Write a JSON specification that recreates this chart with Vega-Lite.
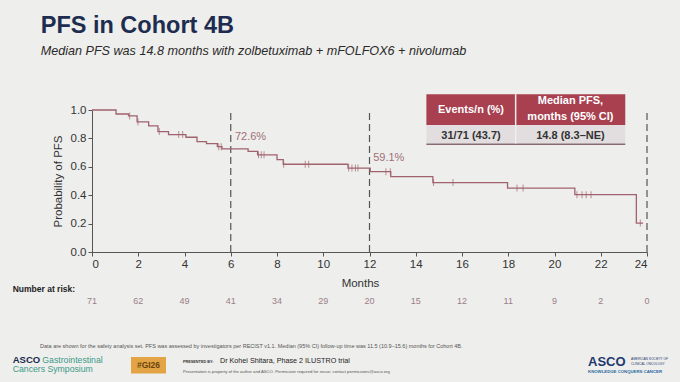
{
  "$schema": "https://vega.github.io/schema/vega-lite/v6.json",
  "width": 555,
  "height": 142,
  "autosize": "none",
  "padding": {"left": 92, "top": 110, "right": 33, "bottom": 130},
  "background": "#eeeeec",
  "config": {
    "view": {"stroke": null},
    "font": "Liberation Sans",
    "axis": {
      "labelFont": "Liberation Sans",
      "titleFont": "Liberation Sans",
      "labelFontSize": 11.5,
      "titleFontSize": 11.5,
      "titleFontWeight": "normal",
      "labelColor": "#333333",
      "titleColor": "#333333",
      "domainColor": "#555555",
      "tickColor": "#555555",
      "tickSize": 4,
      "labelPadding": 2,
      "labelOverlap": false,
      "grid": false
    }
  },
  "data": {"values": [{}]},
  "layer": [
    {
      "data": {"values": [{"month": 6}, {"month": 12}, {"month": 24}]},
      "mark": {"type": "rule", "color": "#555555", "strokeWidth": 1.2, "strokeDash": [7, 4]},
      "encoding": {
        "x": {"field": "month", "type": "quantitative"},
        "y": {"datum": 0},
        "y2": {"datum": 1}
      }
    },
    {
      "data": {"values": [
        {"t": 0, "s": 1.0},
        {"t": 1.04, "s": 0.972},
        {"t": 1.58, "s": 0.958},
        {"t": 1.95, "s": 0.916},
        {"t": 2.45, "s": 0.888},
        {"t": 2.85, "s": 0.848},
        {"t": 3.31, "s": 0.827},
        {"t": 4.06, "s": 0.808},
        {"t": 4.54, "s": 0.777},
        {"t": 4.95, "s": 0.763},
        {"t": 5.42, "s": 0.742},
        {"t": 5.62, "s": 0.726},
        {"t": 6.75, "s": 0.708},
        {"t": 7.16, "s": 0.684},
        {"t": 8.0, "s": 0.65},
        {"t": 8.27, "s": 0.618},
        {"t": 11.07, "s": 0.591},
        {"t": 12.03, "s": 0.566},
        {"t": 12.92, "s": 0.531},
        {"t": 14.74, "s": 0.489},
        {"t": 17.97, "s": 0.45},
        {"t": 20.88, "s": 0.404},
        {"t": 23.54, "s": 0.204},
        {"t": 23.83, "s": 0.204}
      ]},
      "mark": {"type": "line", "interpolate": "step-after", "color": "#a0626d", "strokeWidth": 1.3},
      "encoding": {
        "x": {
          "field": "t", "type": "quantitative",
          "scale": {"domain": [0, 24], "nice": false, "zero": false},
          "axis": {"title": "Months", "values": [0, 2, 4, 6, 8, 10, 12, 14, 16, 18, 20, 22, 24], "labelOverlap": false, "titlePadding": 8, "titleX": 268}
        },
        "y": {
          "field": "s", "type": "quantitative",
          "scale": {"domain": [0, 1], "nice": false, "zero": false},
          "axis": {"title": "Probability of PFS", "values": [0, 0.2, 0.4, 0.6, 0.8, 1.0], "tickCount": 6, "labelOverlap": false, "format": ".1f", "titlePadding": 7}
        }
      }
    },
    {
      "data": {"values": [
        {"t": 1.63, "s": 0.958}, {"t": 1.99, "s": 0.916}, {"t": 2.91, "s": 0.848},
        {"t": 3.75, "s": 0.827}, {"t": 3.92, "s": 0.827},
        {"t": 5.48, "s": 0.742}, {"t": 5.59, "s": 0.742},
        {"t": 7.2, "s": 0.684}, {"t": 7.32, "s": 0.684}, {"t": 7.44, "s": 0.684},
        {"t": 8.29, "s": 0.618}, {"t": 9.22, "s": 0.618}, {"t": 9.37, "s": 0.618},
        {"t": 11.1, "s": 0.591}, {"t": 11.24, "s": 0.591}, {"t": 11.39, "s": 0.591}, {"t": 11.5, "s": 0.591},
        {"t": 12.71, "s": 0.566}, {"t": 12.9, "s": 0.566},
        {"t": 14.77, "s": 0.489}, {"t": 15.61, "s": 0.489},
        {"t": 18.38, "s": 0.45}, {"t": 18.64, "s": 0.45},
        {"t": 20.97, "s": 0.404}, {"t": 21.19, "s": 0.404}, {"t": 21.37, "s": 0.404}, {"t": 21.58, "s": 0.404},
        {"t": 23.71, "s": 0.204}
      ]},
      "mark": {"type": "tick", "orient": "vertical", "size": 7, "thickness": 1, "color": "#a0626d"},
      "encoding": {
        "x": {"field": "t", "type": "quantitative"},
        "y": {"field": "s", "type": "quantitative"}
      }
    },
    {
      "data": {"values": [
        {"month": 0, "n": 71}, {"month": 2, "n": 62}, {"month": 4, "n": 49}, {"month": 6, "n": 41},
        {"month": 8, "n": 34}, {"month": 10, "n": 29}, {"month": 12, "n": 20}, {"month": 14, "n": 15},
        {"month": 16, "n": 12}, {"month": 18, "n": 11}, {"month": 20, "n": 9}, {"month": 22, "n": 2},
        {"month": 24, "n": 0}
      ]},
      "mark": {"type": "text", "fontSize": 9, "color": "#9a8088", "baseline": "middle"},
      "encoding": {
        "x": {"field": "month", "type": "quantitative"},
        "y": {"datum": -0.348},
        "text": {"field": "n", "type": "quantitative"}
      }
    },
    {
      "mark": {"type": "text", "align": "left", "baseline": "alphabetic", "fontSize": 23.5, "fontWeight": "bold", "color": "#1e2d4f"},
      "encoding": {"x": {"datum": -2.218}, "y": {"datum": 1.544}, "text": {"value": "PFS in Cohort 4B"}}
    },
    {
      "mark": {"type": "text", "align": "left", "baseline": "alphabetic", "fontSize": 12.6, "fontStyle": "italic", "color": "#2a2a2a"},
      "encoding": {"x": {"datum": -2.218}, "y": {"datum": 1.385}, "text": {"value": "Median PFS was 14.8 months with zolbetuximab + mFOLFOX6 + nivolumab"}}
    },
    {
      "mark": {"type": "text", "align": "left", "baseline": "middle", "fontSize": 11, "color": "#a07078"},
      "encoding": {"x": {"datum": 6.18}, "y": {"datum": 0.81}, "text": {"value": "72.6%"}}
    },
    {
      "mark": {"type": "text", "align": "left", "baseline": "middle", "fontSize": 11, "color": "#a07078"},
      "encoding": {"x": {"datum": 12.16}, "y": {"datum": 0.66}, "text": {"value": "59.1%"}}
    },
    {
      "mark": {"type": "rect", "color": "#a8404f"},
      "encoding": {"x": {"datum": 14.46}, "x2": {"datum": 23.06}, "y": {"datum": 0.894}, "y2": {"datum": 1.111}}
    },
    {
      "mark": {"type": "rect", "color": "#e2dedf"},
      "encoding": {"x": {"datum": 14.46}, "x2": {"datum": 23.06}, "y": {"datum": 0.764}, "y2": {"datum": 0.894}}
    },
    {
      "mark": {"type": "rule", "color": "#8a6a70", "strokeWidth": 1.5},
      "encoding": {"x": {"datum": 14.46}, "x2": {"datum": 23.06}, "y": {"datum": 0.759}}
    },
    {
      "mark": {"type": "rule", "color": "#f2ecec", "strokeWidth": 1.5},
      "encoding": {"x": {"datum": 18.32}, "y": {"datum": 0.764}, "y2": {"datum": 1.111}}
    },
    {
      "mark": {"type": "text", "align": "center", "baseline": "middle", "fontSize": 11, "fontWeight": "bold", "color": "#ffffff"},
      "encoding": {"x": {"datum": 16.39}, "y": {"datum": 1.0}, "text": {"value": "Events/n (%)"}}
    },
    {
      "mark": {"type": "text", "align": "center", "baseline": "middle", "fontSize": 11, "fontWeight": "bold", "color": "#ffffff"},
      "encoding": {"x": {"datum": 20.69}, "y": {"datum": 1.062}, "text": {"value": "Median PFS,"}}
    },
    {
      "mark": {"type": "text", "align": "center", "baseline": "middle", "fontSize": 11, "fontWeight": "bold", "color": "#ffffff"},
      "encoding": {"x": {"datum": 20.69}, "y": {"datum": 0.95}, "text": {"value": "months (95% CI)"}}
    },
    {
      "mark": {"type": "text", "align": "center", "baseline": "middle", "fontSize": 11, "fontWeight": "bold", "color": "#333333"},
      "encoding": {"x": {"datum": 16.39}, "y": {"datum": 0.815}, "text": {"value": "31/71 (43.7)"}}
    },
    {
      "mark": {"type": "text", "align": "center", "baseline": "middle", "fontSize": 11, "fontWeight": "bold", "color": "#333333"},
      "encoding": {"x": {"datum": 20.69}, "y": {"datum": 0.815}, "text": {"value": "14.8 (8.3–NE)"}}
    },
    {
      "mark": {"type": "text", "align": "left", "baseline": "middle", "fontSize": 8.5, "fontWeight": "bold", "color": "#222222"},
      "encoding": {"x": {"datum": -3.43}, "y": {"datum": -0.262}, "text": {"value": "Number at risk:"}}
    },
    {
      "mark": {"type": "text", "align": "left", "baseline": "middle", "fontSize": 5.5, "color": "#555555"},
      "encoding": {"x": {"datum": -2.249}, "y": {"datum": -0.662}, "text": {"value": "Data are shown for the safety analysis set. PFS was assessed by investigators per RECIST v1.1. Median (95% CI) follow-up time was 11.5 (10.9–15.6) months for Cohort 4B."}}
    },
    {
      "mark": {"type": "text", "align": "left", "baseline": "middle", "fontSize": 9.5, "fontWeight": "bold", "color": "#1a2a4a"},
      "encoding": {"x": {"datum": -3.429}, "y": {"datum": -0.761}, "text": {"value": "ASCO"}}
    },
    {
      "mark": {"type": "text", "align": "left", "baseline": "middle", "fontSize": 8.7, "color": "#3a9a88"},
      "encoding": {"x": {"datum": -2.149}, "y": {"datum": -0.761}, "text": {"value": "Gastrointestinal"}}
    },
    {
      "mark": {"type": "text", "align": "left", "baseline": "middle", "fontSize": 8.7, "color": "#3a9a88"},
      "encoding": {"x": {"datum": -3.429}, "y": {"datum": -0.826}, "text": {"value": "Cancers Symposium"}}
    },
    {
      "mark": {"type": "rect", "color": "#e2a444"},
      "encoding": {"x": {"datum": 1.686}, "x2": {"datum": 3.2}, "y": {"datum": -0.739}, "y2": {"datum": -0.856}}
    },
    {
      "mark": {"type": "text", "align": "center", "baseline": "middle", "fontSize": 8.5, "fontWeight": "bold", "color": "#6a4410"},
      "encoding": {"x": {"datum": 2.443}, "y": {"datum": -0.797}, "text": {"value": "#GI26"}}
    },
    {
      "mark": {"type": "text", "align": "left", "baseline": "middle", "fontSize": 3.8, "fontWeight": "bold", "color": "#333333"},
      "encoding": {"x": {"datum": 3.935}, "y": {"datum": -0.778}, "text": {"value": "PRESENTED BY:"}}
    },
    {
      "mark": {"type": "text", "align": "left", "baseline": "middle", "fontSize": 7.2, "color": "#222222"},
      "encoding": {"x": {"datum": 5.535}, "y": {"datum": -0.768}, "text": {"value": "Dr Kohei Shitara, Phase 2 ILUSTRO trial"}}
    },
    {
      "mark": {"type": "text", "align": "left", "baseline": "middle", "fontSize": 4.2, "color": "#555555"},
      "encoding": {"x": {"datum": 3.935}, "y": {"datum": -0.843}, "text": {"value": "Presentation is property of the author and ASCO. Permission required for reuse; contact permissions@asco.org"}}
    },
    {
      "mark": {"type": "text", "align": "left", "baseline": "middle", "fontSize": 13, "fontWeight": "bold", "color": "#1e3a6e"},
      "encoding": {"x": {"datum": 21.45}, "y": {"datum": -0.775}, "text": {"value": "ASCO"}}
    },
    {
      "mark": {"type": "text", "align": "left", "baseline": "middle", "fontSize": 3.2, "color": "#1e3a6e"},
      "encoding": {"x": {"datum": 23.31}, "y": {"datum": -0.756}, "text": {"value": "AMERICAN SOCIETY OF"}}
    },
    {
      "mark": {"type": "text", "align": "left", "baseline": "middle", "fontSize": 3.2, "color": "#1e3a6e"},
      "encoding": {"x": {"datum": 23.31}, "y": {"datum": -0.785}, "text": {"value": "CLINICAL ONCOLOGY"}}
    },
    {
      "mark": {"type": "text", "align": "left", "baseline": "middle", "fontSize": 4.3, "fontWeight": "bold", "color": "#2a6aa0"},
      "encoding": {"x": {"datum": 21.45}, "y": {"datum": -0.843}, "text": {"value": "KNOWLEDGE CONQUERS CANCER"}}
    }
  ]
}
